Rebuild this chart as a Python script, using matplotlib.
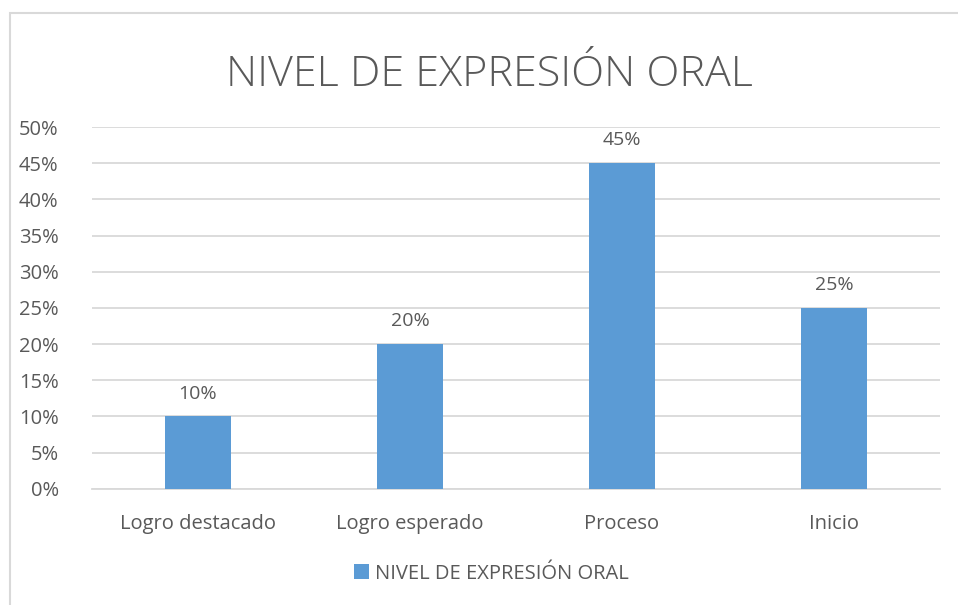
import matplotlib.pyplot as plt
from matplotlib.patches import Rectangle
from matplotlib.ticker import FuncFormatter

categories = ["Logro destacado", "Logro esperado", "Proceso", "Inicio"]
values = [10, 20, 45, 25]
series_name = "NIVEL DE EXPRESIÓN ORAL"
title = "NIVEL DE EXPRESIÓN ORAL"

bar_color = "#5B9BD5"
text_color = "#595959"
grid_color = "#D9D9D9"

plt.rcParams['font.family'] = ['Open Sans', 'DejaVu Sans']

fig = plt.figure(figsize=(9.58, 6.05), dpi=100)
ax = fig.add_axes([0.096, 0.192, 0.885, 0.598])

# chart border (light grey frame, cut off at right/bottom like the reference)
fig.patches.append(Rectangle((10 / 958, -0.05), 1.0, 1 - 13 / 605 + 0.05,
                             transform=fig.transFigure, fill=False,
                             edgecolor=grid_color, linewidth=1.5))

x = range(len(categories))
bars = ax.bar(x, values, width=0.31, color=bar_color, zorder=3, label=series_name)

for b, v in zip(bars, values):
    ax.text(b.get_x() + b.get_width() / 2, v + 1.9, f"{v}%", ha="center", va="bottom",
            fontsize=14, color=text_color)

ax.set_ylim(0, 50)
ax.set_xlim(-0.5, len(categories) - 0.5)
ax.set_yticks(range(0, 51, 5))
ax.yaxis.set_major_formatter(FuncFormatter(lambda v, p: f"{int(v)}%"))
ax.set_xticks(list(x))
ax.set_xticklabels(categories)
ax.tick_params(axis="both", length=0, labelsize=14.5, labelcolor=text_color)
ax.tick_params(axis="x", pad=18)
ax.tick_params(axis="y", pad=24)

ax.grid(axis="y", color=grid_color, linewidth=1.3, zorder=0)
for s in ["top", "right", "left"]:
    ax.spines[s].set_visible(False)
ax.spines["bottom"].set_color(grid_color)
ax.spines["bottom"].set_linewidth(1.3)

fig.text(0.511, 0.877, title, ha="center", va="center", fontsize=31,
         color=text_color, fontweight="light")

fig.legend(loc="center", bbox_to_anchor=(0.513, 0.052), frameon=False,
           fontsize=14.5, labelcolor=text_color, handlelength=0.75, handleheight=0.75,
           handletextpad=0.3)

fig.savefig("out.png", dpi=100, facecolor="white")
